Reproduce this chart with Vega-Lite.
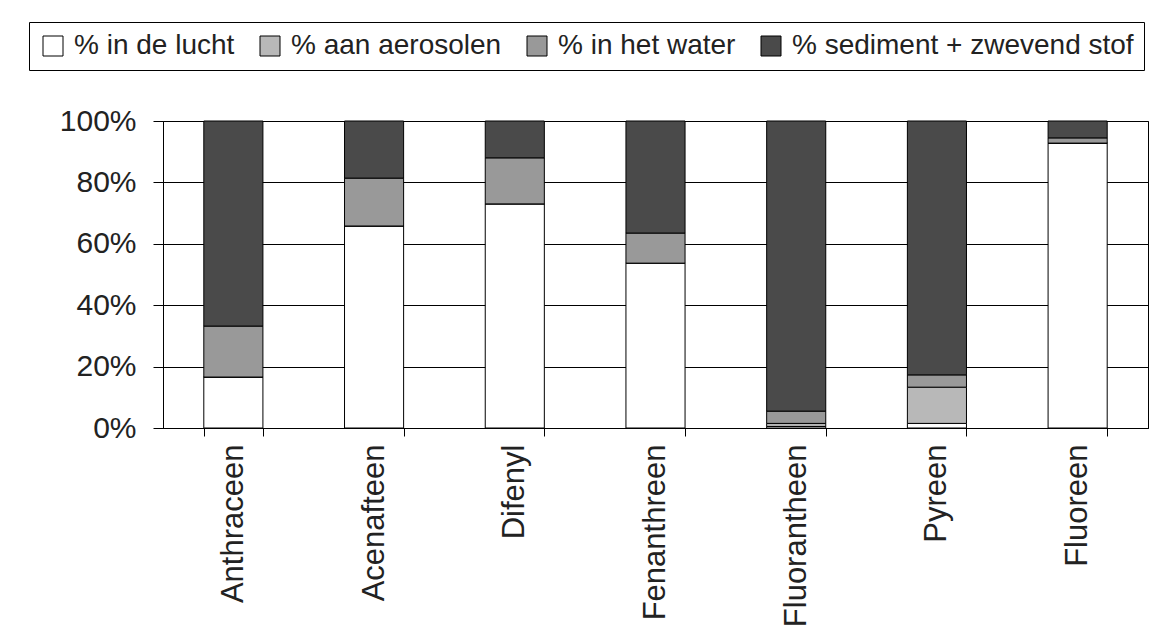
{
  "$schema": "https://vega.github.io/schema/vega-lite/v6.json",
  "autosize": {"type": "none"},
  "width": 985,
  "height": 307,
  "padding": {"left": 163, "top": 121, "right": 6, "bottom": 213},
  "background": "white",
  "config": {
    "font": "Liberation Sans",
    "view": {"stroke": "black", "strokeWidth": 1},
    "axis": {"labelFont": "Liberation Sans", "labelColor": "#222", "domainColor": "black", "tickColor": "black", "gridColor": "black", "gridOpacity": 1}
  },
  "data": {
    "values": [
      {"stof": "Anthraceen", "fase": "% in de lucht", "volgorde": 1, "pct": 16.6},
      {"stof": "Anthraceen", "fase": "% aan aerosolen", "volgorde": 2, "pct": 0},
      {"stof": "Anthraceen", "fase": "% in het water", "volgorde": 3, "pct": 16.6},
      {"stof": "Anthraceen", "fase": "% sediment + zwevend stof", "volgorde": 4, "pct": 66.8},
      {"stof": "Acenafteen", "fase": "% in de lucht", "volgorde": 1, "pct": 65.8},
      {"stof": "Acenafteen", "fase": "% aan aerosolen", "volgorde": 2, "pct": 0},
      {"stof": "Acenafteen", "fase": "% in het water", "volgorde": 3, "pct": 15.6},
      {"stof": "Acenafteen", "fase": "% sediment + zwevend stof", "volgorde": 4, "pct": 18.6},
      {"stof": "Difenyl", "fase": "% in de lucht", "volgorde": 1, "pct": 73.0},
      {"stof": "Difenyl", "fase": "% aan aerosolen", "volgorde": 2, "pct": 0},
      {"stof": "Difenyl", "fase": "% in het water", "volgorde": 3, "pct": 15.0},
      {"stof": "Difenyl", "fase": "% sediment + zwevend stof", "volgorde": 4, "pct": 12.0},
      {"stof": "Fenanthreen", "fase": "% in de lucht", "volgorde": 1, "pct": 53.7},
      {"stof": "Fenanthreen", "fase": "% aan aerosolen", "volgorde": 2, "pct": 0},
      {"stof": "Fenanthreen", "fase": "% in het water", "volgorde": 3, "pct": 9.8},
      {"stof": "Fenanthreen", "fase": "% sediment + zwevend stof", "volgorde": 4, "pct": 36.5},
      {"stof": "Fluorantheen", "fase": "% in de lucht", "volgorde": 1, "pct": 0.5},
      {"stof": "Fluorantheen", "fase": "% aan aerosolen", "volgorde": 2, "pct": 1.0},
      {"stof": "Fluorantheen", "fase": "% in het water", "volgorde": 3, "pct": 4.0},
      {"stof": "Fluorantheen", "fase": "% sediment + zwevend stof", "volgorde": 4, "pct": 94.5},
      {"stof": "Pyreen", "fase": "% in de lucht", "volgorde": 1, "pct": 1.5},
      {"stof": "Pyreen", "fase": "% aan aerosolen", "volgorde": 2, "pct": 11.8},
      {"stof": "Pyreen", "fase": "% in het water", "volgorde": 3, "pct": 4.0},
      {"stof": "Pyreen", "fase": "% sediment + zwevend stof", "volgorde": 4, "pct": 82.7},
      {"stof": "Fluoreen", "fase": "% in de lucht", "volgorde": 1, "pct": 92.8},
      {"stof": "Fluoreen", "fase": "% aan aerosolen", "volgorde": 2, "pct": 0},
      {"stof": "Fluoreen", "fase": "% in het water", "volgorde": 3, "pct": 1.7},
      {"stof": "Fluoreen", "fase": "% sediment + zwevend stof", "volgorde": 4, "pct": 5.5}
    ]
  },
  "mark": {"type": "bar", "stroke": "black", "strokeWidth": 1},
  "encoding": {
    "x": {
      "field": "stof",
      "type": "nominal",
      "sort": ["Anthraceen", "Acenafteen", "Difenyl", "Fenanthreen", "Fluorantheen", "Pyreen", "Fluoreen"],
      "scale": {"paddingInner": 0.58, "paddingOuter": 0.29},
      "axis": {
        "title": null,
        "labelAngle": 270,
        "labelFontSize": 31,
        "labelPadding": 8,
        "labelLimit": 400,
        "tickBand": "extent",
        "tickSize": 8,
        "domainColor": "black",
        "grid": false
      }
    },
    "y": {
      "field": "pct",
      "type": "quantitative",
      "stack": "normalize",
      "scale": {"domain": [0, 1], "nice": false},
      "axis": {
        "title": null,
        "format": ".0%",
        "values": [0, 0.2, 0.4, 0.6, 0.8, 1],
        "labelFontSize": 30,
        "labelPadding": 17,
        "tickSize": 10,
        "grid": true,
        "gridWidth": 1
      }
    },
    "color": {
      "field": "fase",
      "type": "nominal",
      "scale": {
        "domain": ["% in de lucht", "% aan aerosolen", "% in het water", "% sediment + zwevend stof"],
        "range": ["#ffffff", "#b8b8b8", "#999999", "#4a4a4a"]
      },
      "legend": {
        "title": null,
        "orient": "none",
        "legendX": -134,
        "legendY": -99,
        "direction": "horizontal",
        "columns": 4,
        "columnPadding": 21,
        "padding": 10,
        "strokeColor": "black",
        "fillColor": "white",
        "symbolType": "square",
        "symbolSize": 400,
        "symbolStrokeColor": "black",
        "symbolStrokeWidth": 1,
        "symbolOpacity": 1,
        "labelFontSize": 28,
        "labelFont": "Liberation Sans",
        "labelColor": "#222",
        "labelOffset": 7,
        "labelLimit": 500
      }
    },
    "order": {"field": "volgorde", "type": "quantitative", "sort": "ascending"}
  }
}
